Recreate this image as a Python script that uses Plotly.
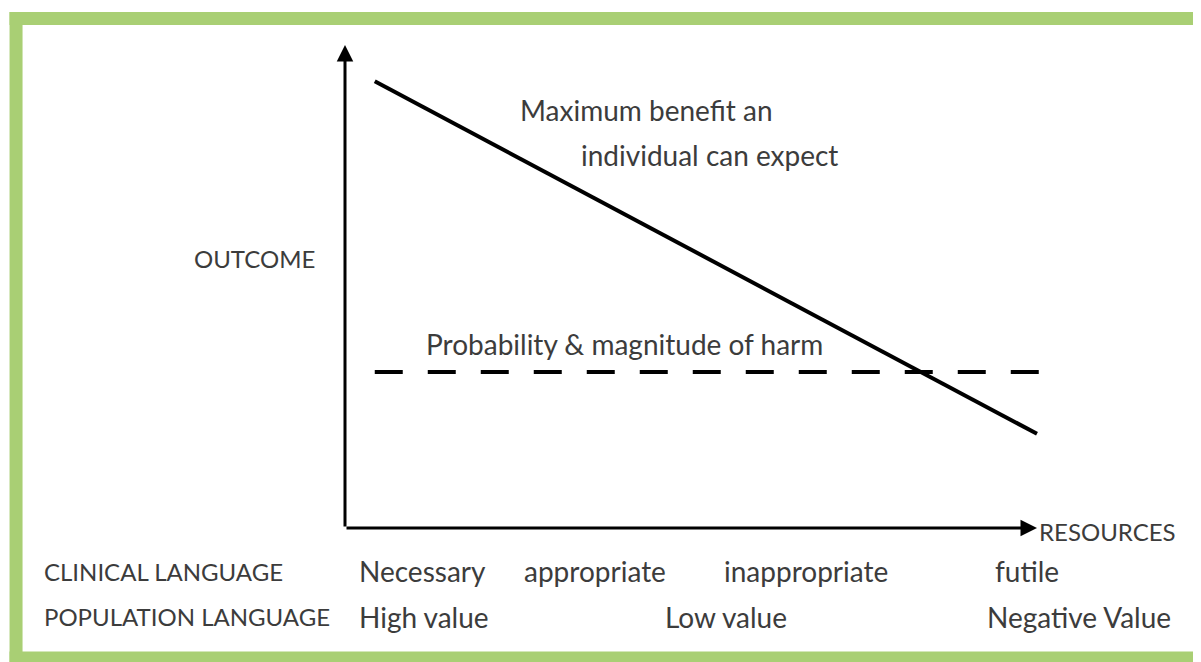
import plotly.graph_objects as go

# conceptual units: x = resources (0 at origin, 10 at arrow tip), y = outcome (0..10)
benefit_x = [0.43, 10.0]
benefit_y = [9.25, 1.95]
harm_x = [0.43, 10.07]
harm_y = [3.23, 3.23]

clinical_terms = ["Necessary", "appropriate", "inappropriate", "futile"]
clinical_pos = [0.17, 2.56, 5.45, 9.36]
population_terms = ["High value", "Low value", "Negative Value"]
population_pos = [0.17, 4.60, 9.25]

TEXT = "#3c3c3c"
FONT = "Lato, 'Open Sans', sans-serif"
CAPS = 24     # upper-case labels
LOWER = 28    # mixed-case labels
GREEN = "#a9cf74"

fig = go.Figure()
fig.add_trace(go.Scatter(x=benefit_x, y=benefit_y, mode="lines",
                         line=dict(color="black", width=4), hoverinfo="skip"))
fig.add_trace(go.Scatter(x=harm_x, y=harm_y, mode="lines",
                         line=dict(color="black", width=4, dash="28px,25px"),
                         hoverinfo="skip"))

ann = []
# axes with arrow heads
for tip, tail in (((10.0, 0), (0, 0)), ((0, 10.0), (0, 0))):
    ann.append(dict(x=tip[0], y=tip[1], ax=tail[0], ay=tail[1], xref="x", yref="y",
                    axref="x", ayref="y", showarrow=True, arrowhead=2, arrowsize=1.1,
                    arrowwidth=3, arrowcolor="black", text=""))


def label(x, y, text, size, anchor="left"):
    ann.append(dict(x=x, y=y, text=text, showarrow=False, xanchor=anchor, yanchor="middle",
                    font=dict(family=FONT, size=size, color=TEXT)))


label(-0.40, 5.59, "OUTCOME", CAPS, "right")
label(2.50, 8.65, "Maximum benefit an", LOWER)
label(3.38, 7.72, "individual can expect", LOWER)
label(1.14, 3.81, "Probability &amp; magnitude of harm", LOWER)
label(10.0, -0.08, "RESOURCES", CAPS)
label(-4.38, -0.89, "CLINICAL LANGUAGE", CAPS)
label(-4.38, -1.84, "POPULATION LANGUAGE", CAPS)
for t, p in zip(clinical_terms, clinical_pos):
    label(p, -0.89, t, LOWER)
for t, p in zip(population_terms, population_pos):
    label(p, -1.84, t, LOWER)

# green frame: top and bottom bands, left side as a filled strip
shapes = [
    dict(type="rect", xref="paper", yref="paper", x0=0.0013, x1=0.0122, y0=-0.01, y1=0.994,
         fillcolor=GREEN, line=dict(width=0)),
    dict(type="rect", xref="paper", yref="paper", x0=0.0013, x1=0.999, y0=0.974, y1=0.994,
         fillcolor=GREEN, line=dict(width=0)),
    dict(type="rect", xref="paper", yref="paper", x0=0.0013, x1=0.999, y0=-0.01, y1=0.016,
         fillcolor=GREEN, line=dict(width=0)),
]

fig.update_layout(
    # page body keeps an 8px margin: figure is sized to fit the window without overflow
    width=1193, height=654, margin=dict(l=0, r=0, t=0, b=0),
    paper_bgcolor="white", plot_bgcolor="white", showlegend=False,
    xaxis=dict(range=[-4.870, 12.370], visible=False),
    yaxis=dict(range=[-2.774, 10.766], visible=False),
    annotations=ann,
    shapes=shapes,
)

fig.write_html("out.html")
